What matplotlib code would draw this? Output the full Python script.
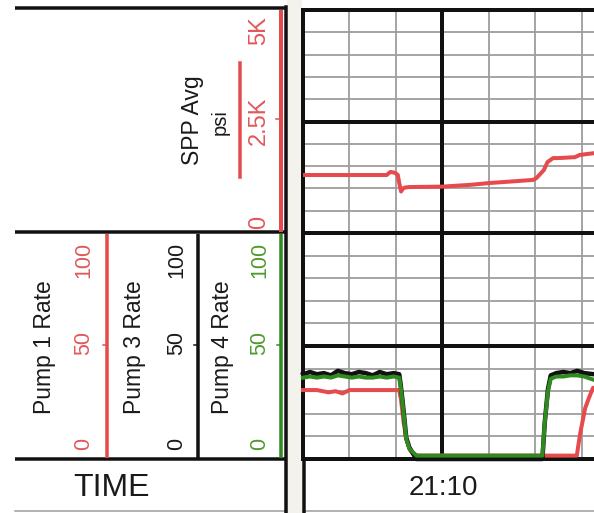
import matplotlib
matplotlib.use("Agg")
import matplotlib.pyplot as plt

# ---- drilling log strip: standpipe pressure + pump rates around 21:10 ----

# time in minutes relative to 21:10
spp_t = [-3.0, -1.2, -1.12, -1.02, -0.96, -0.93, -0.89, -0.85, -0.80, -0.72,
         0.0, 0.6, 1.0, 1.55, 1.95, 2.02, 2.18, 2.26, 2.38, 2.5, 2.85, 2.95, 3.26]
spp_psi = [1300, 1300, 1370, 1350, 1300, 1120, 930, 1000, 1020, 1030,
           1040, 1080, 1120, 1160, 1190, 1230, 1410, 1590, 1680, 1680, 1700, 1750, 1790]

pump1_t = [-3.0, -2.7, -2.45, -2.3, -2.15, -2.0, -1.7, -1.4, -1.1, -0.93, -0.89,
           -0.84, -0.78, -0.70, -0.62, -0.52, 0.0, 1.0, 2.0, 2.6, 2.89, 2.96,
           3.07, 3.15, 3.24, 3.26]
pump1 = [30.5, 30.5, 29.5, 30.0, 29.0, 30.5, 30.5, 30.5, 30.5, 30.5, 26.0,
         17.0, 9.0, 4.0, 2.0, 1.5, 1.5, 1.5, 1.5, 1.5, 1.5, 11.0,
         22.5, 27.0, 31.5, 31.5]

pump_t = [-3.0, -2.85, -2.7, -2.55, -2.4, -2.25, -2.1, -1.95, -1.8, -1.65, -1.5,
          -1.35, -1.2, -1.05, -0.93, -0.90, -0.86, -0.82, -0.78, -0.71, -0.56,
          0.0, 1.0, 2.0, 2.15, 2.20, 2.27, 2.33, 2.45, 2.6, 2.75, 2.9, 3.05, 3.26]
pump3 = [37.5, 38.5, 37.5, 38.0, 37.0, 39.0, 38.0, 37.5, 38.5, 38.0, 37.0,
         38.5, 37.5, 38.0, 37.5, 33.0, 26.0, 18.0, 9.5, 5.0, 0.0,
         0.0, 0.0, 0.0, 0.0, 16.0, 31.0, 37.0, 38.0, 38.5, 38.0, 39.0, 38.0, 37.5]
pump4 = [36.0, 36.5, 36.0, 36.5, 36.0, 37.0, 36.5, 36.0, 36.5, 36.0, 36.0,
         36.5, 36.0, 36.5, 36.0, 32.0, 25.0, 17.0, 9.0, 4.5, 1.5,
         1.5, 1.5, 1.5, 1.5, 16.0, 30.0, 35.5, 36.5, 36.5, 37.0, 37.0, 36.5, 35.0]

spp_ticks = ["0", "2.5K", "5K"]
rate_ticks = ["0", "50", "100"]
time_label = "21:10"

W, H = 594, 513
RED = "#e64a4c"
RED_TXT = "#e2585a"
GREEN = "#2f8a1f"
GREEN_TXT = "#4f9a2e"
GRID = "#9c9c9c"
PX = 0.72  # one pixel in points at 100 dpi

plt.rcParams["font.family"] = ["Liberation Sans", "DejaVu Sans"]

fig = plt.figure(figsize=(W / 100, H / 100), dpi=100)
fig.patch.set_facecolor("white")


def px_axes(x0, y0, x1, y1, **kw):
    return fig.add_axes([x0 / W, 1 - y1 / H, (x1 - x0) / W, (y1 - y0) / H], **kw)


# overlay in pixel coordinates for the header column and time row
frame = px_axes(0, 0, W, H, zorder=0)
frame.set_xlim(0, W)
frame.set_ylim(H, 0)
frame.axis("off")

frame.axvspan(287, 302, color="#f3f2ec", lw=0)
for y in (8, 232, 459):
    frame.plot([15, 287], [y, y], color="#111111", lw=3.5 * PX, solid_capstyle="butt")
frame.plot([15, 285], [511, 511], color="#9a9a9a", lw=1.5 * PX)
frame.plot([303, W], [511, 511], color="#9a9a9a", lw=1.5 * PX)
frame.plot([285.5, 285.5], [7, H], color="#111111", lw=3.5 * PX)
frame.plot([303.5, 303.5], [459, H], color="#111111", lw=3.5 * PX)

# SPP header
frame.plot([280.5, 280.5], [10, 232], color=RED, lw=4 * PX, solid_capstyle="butt")
frame.plot([276, 280], [119, 119], color=RED, lw=1.5 * PX)
frame.plot([240, 240], [63, 177], color=RED, lw=3.5 * PX)
frame.text(192, 120, "SPP Avg", rotation=90, ha="center", va="center",
           fontsize=16.5, color="#1a1a1a")
frame.text(220, 122, "psi", rotation=90, ha="center", va="center",
           fontsize=14.5, color="#1a1a1a")
for lab, y in zip(spp_ticks, (222, 121, 31)):
    frame.text(259, y, lab, rotation=90, ha="center", va="center",
               fontsize=17, color=RED_TXT)

# pump headers
pump_cols = [("Pump 1 Rate", 45, 84, 107, RED, RED_TXT),
             ("Pump 3 Rate", 135, 177, 198, "#111111", "#1a1a1a"),
             ("Pump 4 Rate", 222, 260, 281, GREEN, GREEN_TXT)]
for name, xl, xt, xa, c_line, c_txt in pump_cols:
    frame.text(xl, 347, name, rotation=90, ha="center", va="center",
               fontsize=16.5, color="#1a1a1a")
    for lab, y in zip(rate_ticks, (444, 343, 260)):
        frame.text(xt, y, lab, rotation=90, ha="center", va="center",
                   fontsize=15.5, color=c_txt)
    frame.plot([xa, xa], [234, 458], color=c_line, lw=3.5 * PX, solid_capstyle="butt")
    frame.plot([xa - 4, xa], [345, 345], color=c_line, lw=1.5 * PX)

frame.text(112, 488, "TIME", ha="center", va="center", fontsize=23, color="#1a1a1a")
frame.text(443, 488, time_label, ha="center", va="center", fontsize=20, color="#1a1a1a")

# plotting tracks
ax_spp = px_axes(303, 10, W, 233, zorder=2)
ax_rate = px_axes(303, 233, W, 459, zorder=2)

for ax, ymax, step in ((ax_spp, 5000, 500), (ax_rate, 100, 10)):
    ax.set_xlim(-3.0, 3.26)
    ax.set_ylim(0, ymax)
    ax.set_xticks([])
    ax.set_yticks([])
    ax.set_facecolor("white")
    ax.spines["right"].set_visible(False)
    for s in ("left", "top", "bottom"):
        ax.spines[s].set_linewidth(4 * PX)
        ax.spines[s].set_color("#111111")
    for m in (-2, -1, 1, 2, 3):
        ax.axvline(m, color=GRID, lw=1.8 * PX, zorder=1)
    ax.axvline(0, color="#111111", lw=4 * PX, zorder=2)
    for k in range(1, 10):
        if k == 5:
            ax.axhline(k * step, color="#111111", lw=4 * PX, zorder=2)
        else:
            ax.axhline(k * step, color=GRID, lw=1.8 * PX, zorder=1)

ax_spp.plot(spp_t, spp_psi, color=RED, lw=4 * PX, zorder=3)

ax_rate.plot(pump1_t, pump1, color=RED, lw=4 * PX, zorder=3, clip_on=False)
ax_rate.plot(pump_t, pump3, color="#111111", lw=4.5 * PX, zorder=4, clip_on=False)
ax_rate.plot(pump_t, pump4, color=GREEN, lw=4 * PX, zorder=5, clip_on=False)

fig.savefig("out.png", dpi=100, facecolor="white")
